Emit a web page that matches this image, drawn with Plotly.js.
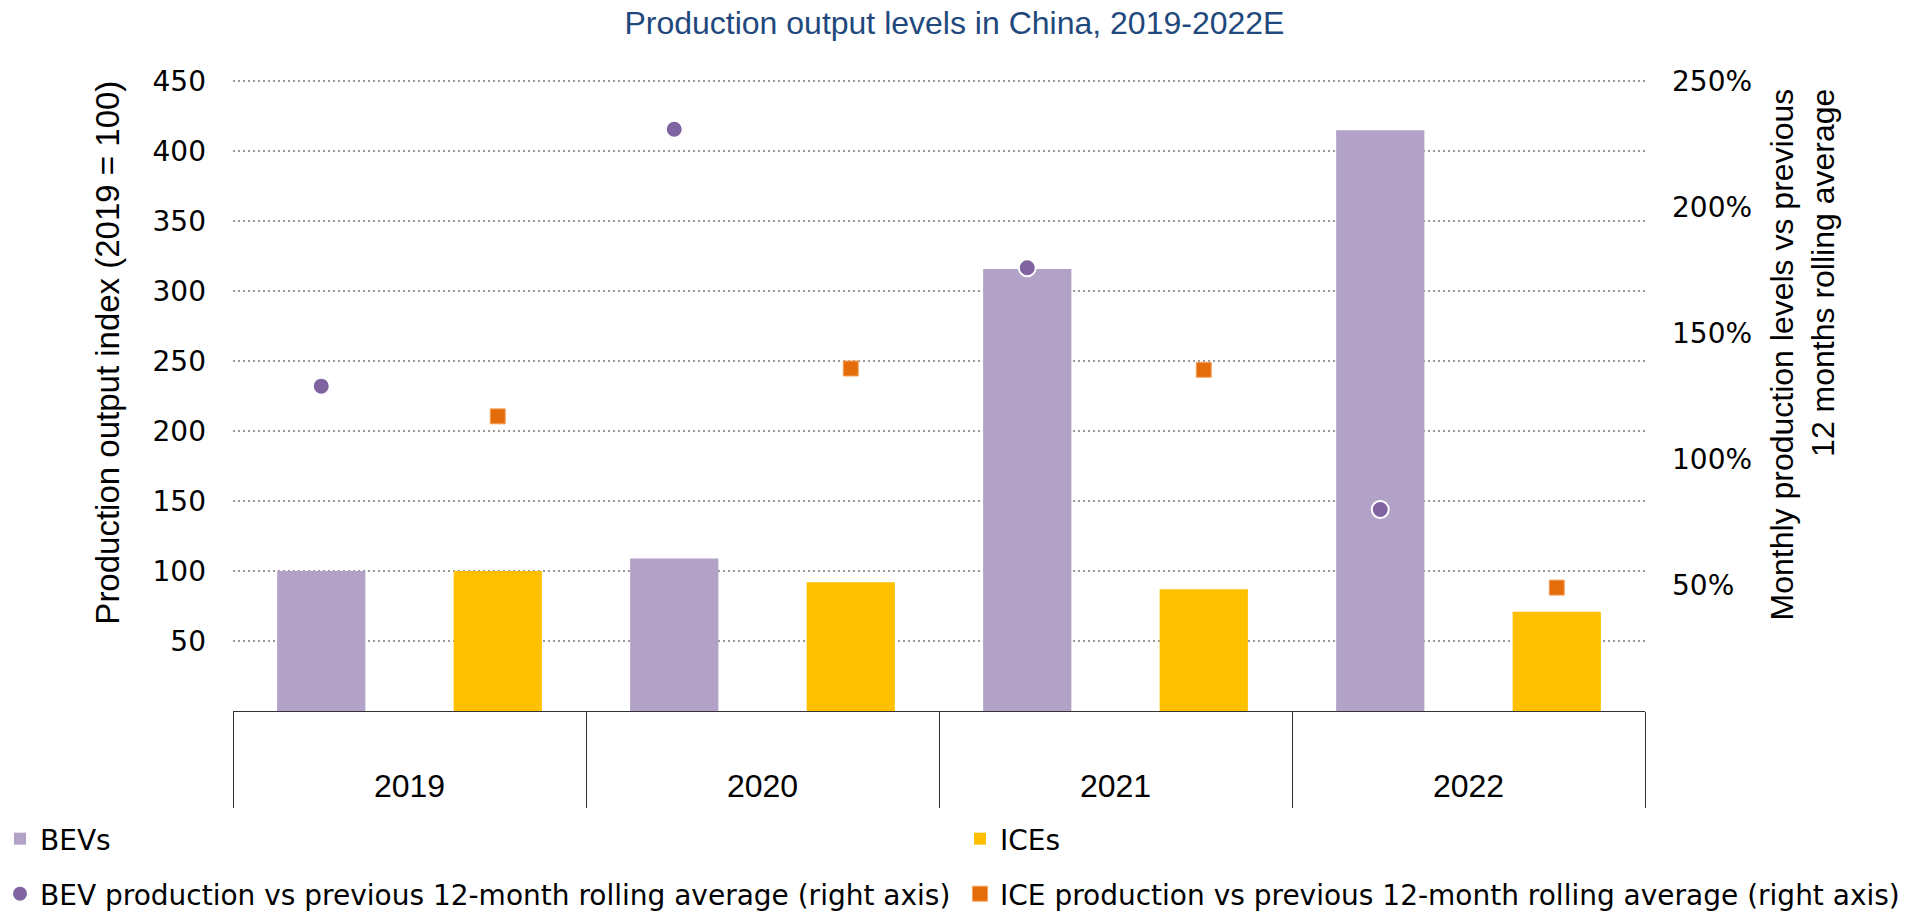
<!DOCTYPE html>
<html><head><meta charset="utf-8">
<script src="https://cdn.plot.ly/plotly-3.0.1.min.js"></script>
<style>html,body{margin:0;padding:0;background:#fff}#chart{width:1925px;height:913px}</style>
</head><body><div id="chart"></div>
<script>
// ---- data ----
const years = ['2019', '2020', '2021', '2022'];
const bevIndex = [100, 109, 316, 415];
const iceIndex = [100, 92, 87, 71];
const bevVsAvg = [1.29, 2.31, 1.76, 0.80];
const iceVsAvg = [1.17, 1.36, 1.355, 0.49];
const leftTicks = [50, 100, 150, 200, 250, 300, 350, 400, 450];
const rightTicks = [0.5, 1.0, 1.5, 2.0, 2.5];
const leftRange = [0, 451];
const rightRange = [0, 2.5 * 451 / 450];
const names = ['BEVs', 'ICEs',
  'BEV production vs previous 12-month rolling average (right axis)',
  'ICE production vs previous 12-month rolling average (right axis)'];

const ARIAL = 'Liberation Sans, Arial, sans-serif';
const WIDE = 'DejaVu Sans, Verdana, sans-serif';

const traces = [
  {type: 'bar', x: years, y: bevIndex, name: names[0], offsetgroup: 'a',
   marker: {color: '#B3A2C7'}, legend: 'legend', hoverinfo: 'skip'},
  {type: 'bar', x: years, y: iceIndex, name: names[1], offsetgroup: 'b',
   marker: {color: '#FFC000'}, legend: 'legend2', hoverinfo: 'skip'},
  {type: 'scatter', mode: 'markers', x: years, y: bevVsAvg, yaxis: 'y2', name: names[2],
   offsetgroup: 'a', legend: 'legend3',
   marker: {symbol: 'circle', size: 17, color: '#8064A2', line: {color: '#FFFFFF', width: 2}}},
  {type: 'scatter', mode: 'markers', x: years, y: iceVsAvg, yaxis: 'y2', name: names[3],
   offsetgroup: 'b', legend: 'legend4',
   marker: {symbol: 'square', size: 15, color: '#E46C0A', line: {color: '#F4A460', width: 1}}}
];

function leg(x, y) {
  return {xref: 'container', yref: 'container', x: x, y: y, xanchor: 'left', yanchor: 'middle',
          orientation: 'h', bgcolor: 'rgba(0,0,0,0)', borderwidth: 0,
          font: {family: WIDE, size: 28, color: '#000'}};
}

const layout = {
  width: 1925, height: 913,
  margin: {l: 233, r: 280, t: 80, b: 202, pad: 0},
  paper_bgcolor: '#fff', plot_bgcolor: '#fff',
  title: {text: 'Production output levels in China, 2019-2022E',
          xref: 'container', x: 0.4958, xanchor: 'center',
          yref: 'container', y: 0.9754, yanchor: 'middle',
          font: {family: ARIAL, size: 32, color: '#1F497D'}},
  barmode: 'group', bargap: 0, bargroupgap: 0.5,
  scattermode: 'group', scattergap: 0,
  showlegend: true,
  legend: leg(0, 0.0811),
  legend2: leg(0.4987, 0.0811),
  legend3: leg(0, 0.0208),
  legend4: leg(0.4987, 0.0208),
  xaxis: {type: 'category', showgrid: false, zeroline: false,
          showline: true, linecolor: '#333', linewidth: 1,
          ticks: 'outside', tickson: 'boundaries', ticklen: 96, tickwidth: 1, tickcolor: '#333',
          ticklabelstandoff: 47,
          tickfont: {family: ARIAL, size: 32, color: '#000'}, automargin: false},
  yaxis: {range: leftRange, tickvals: leftTicks, showgrid: true, gridcolor: '#999999',
          gridwidth: 2, griddash: '2px,3px', zeroline: false, showline: false,
          ticks: '', ticklabelstandoff: 26,
          tickfont: {family: WIDE, size: 28, color: '#000'}, automargin: false},
  yaxis2: {range: rightRange, overlaying: 'y', side: 'right', tickvals: rightTicks,
           tickformat: '.0%', showgrid: false, zeroline: false, showline: false,
           ticks: '', ticklabelstandoff: 26,
           tickfont: {family: WIDE, size: 28, color: '#000'}, automargin: false},
  annotations: [
    {text: 'Production output index (2019 = 100)', xref: 'paper', yref: 'paper',
     x: -0.0885, y: 0.568, xanchor: 'center', yanchor: 'middle', textangle: -90,
     showarrow: false, font: {family: ARIAL, size: 33, color: '#000'}},
    {text: 'Monthly production levels vs previous<br>12 months rolling average',
     xref: 'paper', yref: 'paper', x: 1.1119, y: 0.565, xanchor: 'center', yanchor: 'middle',
     textangle: -90, align: 'right', showarrow: false,
     font: {family: ARIAL, size: 32, color: '#000'}}
  ]
};

Plotly.newPlot('chart', traces, layout, {displayModeBar: false, responsive: false});
</script>
</body></html>
